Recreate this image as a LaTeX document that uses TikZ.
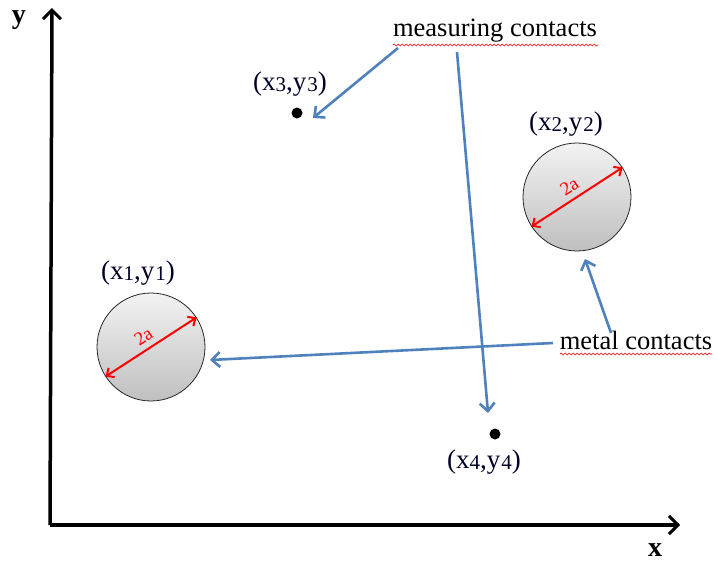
\documentclass[tikz,border=0pt]{standalone}
\usepackage{fontspec}
\setmainfont{Liberation Serif}
\usetikzlibrary{arrows.meta,decorations.pathmorphing,shadings,calc}
\newcommand{\sbs}[1]{\raisebox{-1.5pt}{\fontsize{21}{21}\selectfont #1}}
\newcommand{\ptlab}[1]{(x\sbs{#1},y\hspace{1pt}\sbs{#1})}
\begin{document}
\begin{tikzpicture}[x=1pt,y=-1pt,
  lab/.style={font=\fontsize{27}{27}\selectfont, text=black!85!blue, inner sep=0pt},
  ann/.style={font=\fontsize{26.5}{26.5}\selectfont, inner sep=0pt},
  axlab/.style={font=\fontsize{28}{28}\selectfont\bfseries, inner sep=0pt},
  axis/.style={line width=3.5pt, -{Straight Barb[length=9pt,width=18pt,line width=3pt]}},
  pointer/.style={draw={rgb,255:red,79;green,129;blue,189}, line width=2.6pt, -{Straight Barb[length=8pt,width=15pt,line width=2.6pt]}},
  metal/.style={circle, draw=black!85, line width=0.8pt, minimum size=108pt, inner sep=0pt, top color=black!5, bottom color=black!25},
  dia/.style={draw=red, line width=2pt, {Straight Barb[length=6pt,width=11pt]}-{Straight Barb[length=6pt,width=11pt]}},
  dialab/.style={text=red, font=\fontsize{19}{19}\selectfont, inner sep=0pt, rotate=33, anchor=south},
  dot/.style={circle, fill=black, minimum size=11pt, inner sep=0pt},
  squig/.style={draw=red, line width=0.6pt, decorate, decoration={snake, amplitude=1pt, segment length=4pt}}
]
\useasboundingbox (0,0) rectangle (714,568);
% axes
\coordinate (ytip) at (52,8);
\coordinate (xtip) at (680,525);
\draw[axis] (50,525) -- (ytip);
\draw[axis] (50,525) -- (xtip);
\node[axlab] (ylab) at (19,20) {y};
\node[axlab] (xlab) at (655,550) {x};
% metal contacts
\node[metal] (c1) at (151,347) {};
\node[metal] (c2) at (577,197) {};
\draw[dia] (c1.213) -- (c1.33);
\draw[dia] (c2.213) -- (c2.33);
\node[dialab] (d1) at ($(c1.center)+(-4,-5)$) {2a};
\node[dialab] (d2) at ($(c2.center)+(-4,-5)$) {2a};
\node[lab] (l1) at (138,273) {\ptlab{1}};
\node[lab] (l2) at (566,124) {\ptlab{2}};
% measuring points
\node[dot] (p3) at (297,113) {};
\node[dot] (p4) at (495,434) {};
\node[lab] (l3) at (290,84) {\ptlab{3}};
\node[lab] (l4) at (484,462) {\ptlab{4}};
% annotations
\node[ann] (mc) at (495,31) {measuring contacts};
\node[ann] (mt) at (636,340) {metal contacts};
\draw[squig] (393,45) -- (598,45);
\draw[squig] (560,354) -- (712,354);
\coordinate (mcA) at (398,48);
\coordinate (mcB) at (457,52);
\coordinate (t3) at (313,118);
\coordinate (t4) at (488,413);
\coordinate (mtA) at (553,343);
\coordinate (mtB) at (611,333);
\coordinate (t1) at (210,360);
\coordinate (t2) at (585,259);
\draw[pointer] (mcA) -- (t3);
\draw[pointer] (mcB) -- (t4);
\draw[pointer] (mtA) -- (t1);
\draw[pointer] (mtB) -- (t2);
\end{tikzpicture}
\end{document}
